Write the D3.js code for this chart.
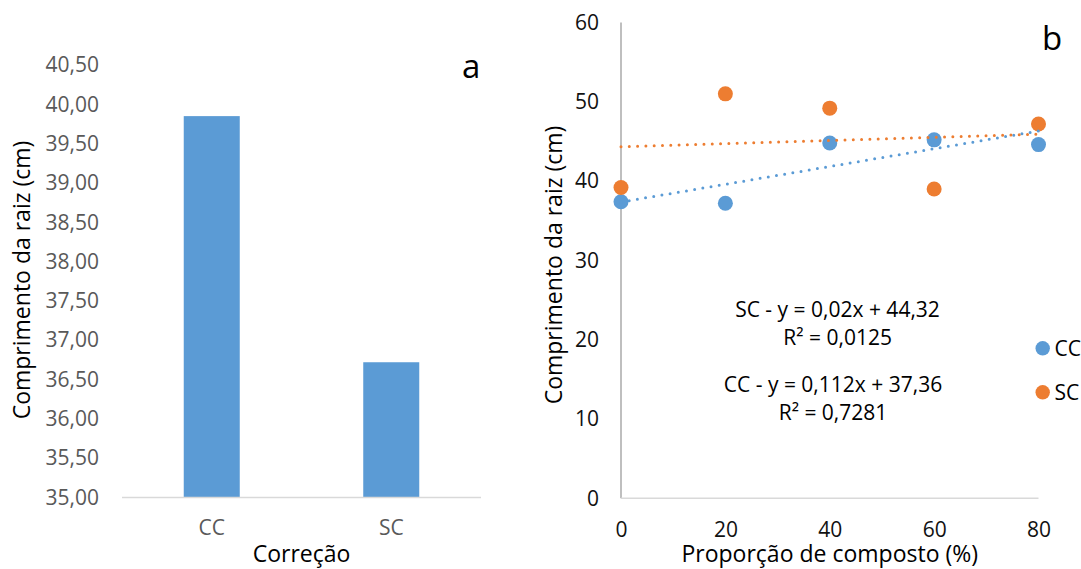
<!DOCTYPE html>
<html>
<head>
<meta charset="utf-8">
<script src="https://cdn.jsdelivr.net/npm/d3@7"></script>
<style>
  html, body { margin: 0; padding: 0; background: #fff; }
  svg { display: block; font-family: "Open Sans", sans-serif; }
</style>
</head>
<body>
<svg id="chart" width="1081" height="569"></svg>
<script>
// ---- Panel a: mean root length by correction ----
const barCategories = ["CC", "SC"];
const barValues = [39.85, 36.72];
const barTicks = [35, 35.5, 36, 36.5, 37, 37.5, 38, 38.5, 39, 39.5, 40, 40.5];

// ---- Panel b: root length vs compost proportion ----
const compost = [0, 20, 40, 60, 80];
const ccValues = [37.4, 37.2, 44.8, 45.2, 44.6];
const scValues = [39.2, 51.0, 49.2, 39.0, 47.2];
const xTicksB = [0, 20, 40, 60, 80];
const yTicksB = [0, 10, 20, 30, 40, 50, 60];

// Linear fits (slope, intercept) as printed on the panel
const ccFit = [0.112, 37.36];
const scFit = [0.02, 44.32];
const equationLines = [
  "SC - y = 0,02x + 44,32",
  "R² = 0,0125",
  "CC - y = 0,112x + 37,36",
  "R² = 0,7281"
];
const seriesNames = ["CC", "SC"];

const BLUE = "#5B9BD5", ORANGE = "#ED7D31";
const ptBR = d3.formatLocale({ decimal: ",", thousands: ".", grouping: [3], currency: ["R$", ""] });
const fmt2 = ptBR.format(".2f");

const svg = d3.select("#chart");

// ================= Panel a =================
const xa = d3.scaleBand().domain(barCategories).range([122, 481])
  .paddingInner(0.688).paddingOuter(0.344);
const ya = d3.scaleLinear().domain([35, 40.5]).range([497.5, 65]);

const ga = svg.append("g");

ga.selectAll("rect.bar").data(barValues).join("rect")
  .attr("class", "bar")
  .attr("x", (d, i) => xa(barCategories[i]))
  .attr("width", xa.bandwidth())
  .attr("y", d => ya(d))
  .attr("height", d => ya(35) - ya(d))
  .attr("fill", BLUE);

// baseline
ga.append("line")
  .attr("x1", 122).attr("x2", 481)
  .attr("y1", ya(35)).attr("y2", ya(35))
  .attr("stroke", "#d9d9d9").attr("stroke-width", 1.3);

const yAxisA = ga.append("g").attr("transform", "translate(122,0)")
  .call(d3.axisLeft(ya).tickValues(barTicks).tickFormat(fmt2).tickSize(0).tickPadding(23));
yAxisA.select(".domain").remove();
yAxisA.selectAll("text").attr("font-size", 21).attr("fill", "#595959")
  .attr("font-family", "Open Sans");

const xAxisA = ga.append("g").attr("transform", `translate(0,${ya(35)})`)
  .call(d3.axisBottom(xa).tickSize(0).tickPadding(22.5));
xAxisA.select(".domain").remove();
xAxisA.selectAll("text").attr("font-size", 21).attr("fill", "#595959")
  .attr("font-family", "Open Sans");

ga.append("text")
  .attr("x", 301.5).attr("y", 562)
  .attr("text-anchor", "middle").attr("font-size", 23).attr("fill", "#000")
  .text("Correção");

ga.append("text")
  .attr("transform", "translate(22,280) rotate(-90)")
  .attr("dy", "0.35em")
  .attr("text-anchor", "middle").attr("font-size", 23).attr("fill", "#000")
  .text("Comprimento da raiz (cm)");

ga.append("text")
  .attr("x", 462).attr("y", 78)
  .attr("font-size", 33).attr("fill", "#000")
  .text("a");

// ================= Panel b =================
const xb = d3.scaleLinear().domain([0, 80]).range([621, 1038.5]);
const yb = d3.scaleLinear().domain([0, 60]).range([498.3, 22.5]);

const gb = svg.append("g");

// axis lines
gb.append("line")
  .attr("x1", xb(0)).attr("x2", xb(0))
  .attr("y1", yb(60)).attr("y2", yb(0))
  .attr("stroke", "#bfbfbf").attr("stroke-width", 2);
gb.append("line")
  .attr("x1", xb(0)).attr("x2", xb(80))
  .attr("y1", yb(0)).attr("y2", yb(0))
  .attr("stroke", "#d9d9d9").attr("stroke-width", 1.5);

const yAxisB = gb.append("g").attr("transform", `translate(${xb(0)},0)`)
  .call(d3.axisLeft(yb).tickValues(yTicksB).tickSize(0).tickPadding(22));
yAxisB.select(".domain").remove();
yAxisB.selectAll("text").attr("font-size", 21).attr("fill", "#111")
  .attr("font-family", "Open Sans");

const xAxisB = gb.append("g").attr("transform", `translate(0,${yb(0)})`)
  .call(d3.axisBottom(xb).tickValues(xTicksB).tickSize(0).tickPadding(23.5));
xAxisB.select(".domain").remove();
xAxisB.selectAll("text").attr("font-size", 21).attr("fill", "#111")
  .attr("font-family", "Open Sans");

gb.append("text")
  .attr("x", (xb(0) + xb(80)) / 2).attr("y", 562)
  .attr("text-anchor", "middle").attr("font-size", 23).attr("fill", "#000")
  .text("Proporção de composto (%)");

gb.append("text")
  .attr("transform", "translate(554,265) rotate(-90)")
  .attr("dy", "0.35em")
  .attr("text-anchor", "middle").attr("font-size", 23).attr("fill", "#000")
  .text("Comprimento da raiz (cm)");

// markers
const series = [
  { name: "CC", values: ccValues, fit: ccFit, color: BLUE },
  { name: "SC", values: scValues, fit: scFit, color: ORANGE }
];

series.forEach(s => {
  gb.append("g").selectAll("circle").data(s.values).join("circle")
    .attr("cx", (d, i) => xb(compost[i]))
    .attr("cy", d => yb(d))
    .attr("r", 7.5)
    .attr("fill", s.color);
});

// dotted trend lines
const line = d3.line().x(d => xb(d[0])).y(d => yb(d[1]));
series.forEach(s => {
  const ends = [0, 80].map(x => [x, s.fit[0] * x + s.fit[1]]);
  gb.append("path")
    .attr("d", line(ends))
    .attr("fill", "none")
    .attr("stroke", s.color)
    .attr("stroke-width", 3)
    .attr("stroke-linecap", "round")
    .attr("stroke-dasharray", "0 8.3");
});

// equations
const eqPos = [[837.5, 309.3], [837.6, 337.3], [833, 384.3], [833, 412.7]];
gb.selectAll("text.eq").data(equationLines).join("text")
  .attr("class", "eq")
  .attr("x", (d, i) => eqPos[i][0])
  .attr("y", (d, i) => eqPos[i][1])
  .attr("dy", "0.35em")
  .attr("text-anchor", "middle")
  .attr("font-size", 21)
  .attr("fill", "#000")
  .text(d => d);

// legend
const legend = gb.append("g");
seriesNames.forEach((n, i) => {
  const cy = 348.3 + i * 44;
  legend.append("circle").attr("cx", 1042.7).attr("cy", cy).attr("r", 7.2)
    .attr("fill", series[i].color);
  legend.append("text").attr("x", 1054.5).attr("y", cy).attr("dy", "0.35em")
    .attr("font-size", 21).attr("fill", "#000").text(n);
});

gb.append("text")
  .attr("x", 1042).attr("y", 50)
  .attr("font-size", 33).attr("fill", "#000")
  .text("b");
</script>
</body>
</html>
